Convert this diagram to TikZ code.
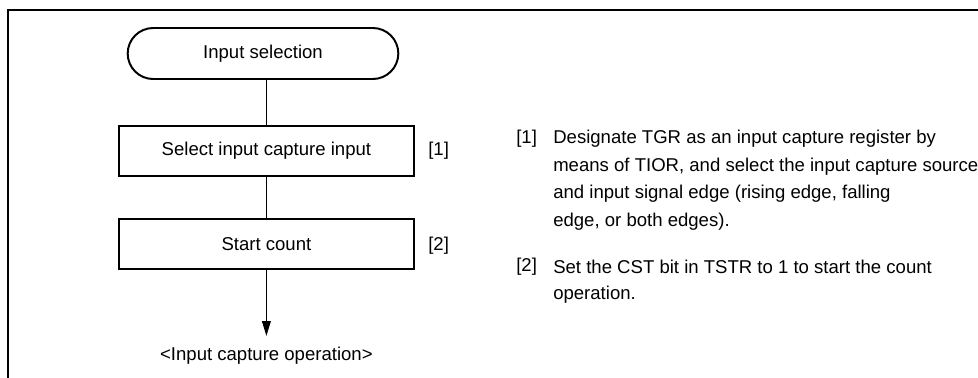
\documentclass[tikz,border=0pt]{standalone}
\usepackage{fontspec}
\setmainfont{Liberation Sans}
\usepackage{tikz}
\usetikzlibrary{arrows.meta}
\usetikzlibrary{shapes.misc}

\begin{document}
\begin{tikzpicture}[x=1cm, y=1cm,
    fl/.style={draw, line width=1.4pt, minimum width=7.375cm, minimum height=1.25cm,
               font=\fontsize{13.2}{16}\selectfont},
    term/.style={fl, rounded rectangle, minimum width=7cm, minimum height=1.275cm},
    tag/.style={anchor=west, inner sep=0pt, font=\fontsize{13.2}{16}\selectfont},
    note/.style={anchor=west, inner sep=0pt, font=\fontsize{13.2}{16}\selectfont}]
  \useasboundingbox (0,0) rectangle (24.45,-9.425);
  \draw[line width=1.5pt] (0.2,-9.5) -- (0.2,-0.25) -- (24.5,-0.25);
  % flow
  \node[term] (start) at (6.575,-1.3375) {Input selection};
  \node[fl] (sel) at (6.66,-3.775) {Select input capture input};
  \node[fl] (cnt) at (6.66,-6.1) {Start count};
  \node[font=\fontsize{13.2}{16}\selectfont, inner sep=0.28cm] (out) at (6.66,-8.9)
    {<Input capture operation>};
  \draw[line width=0.7pt] (start.south -| sel.north) -- (sel.north);
  \draw[line width=0.7pt] (sel) -- (cnt);
  \draw[line width=0.7pt, -{Triangle[length=0.37cm, width=0.22cm]}] (cnt) -- (out.north);
  \node[tag] (t1) at (10.7,-3.775) {[1]};
  \node[tag] (t2) at (10.7,-6.15) {[2]};
  % notes
  \node[note] (n1) at (12.9,-3.475) {[1]};
  \node[note] (n2) at (12.9,-6.675) {[2]};
  \foreach \t [count=\i] in {Designate TGR as an input capture register by,
                             {means of TIOR, and select the input capture source},
                             {and input signal edge (rising edge, falling},
                             {edge, or both edges).}}{
    \node[note] at (13.825,-3.475-0.6875*\i+0.6875) {\t};}
  \foreach \t [count=\i] in {Set the CST bit in TSTR to 1 to start the count,
                             operation.}{
    \node[note] at (13.825,-6.675-0.6875*\i+0.6875) {\t};}
\end{tikzpicture}
\end{document}
